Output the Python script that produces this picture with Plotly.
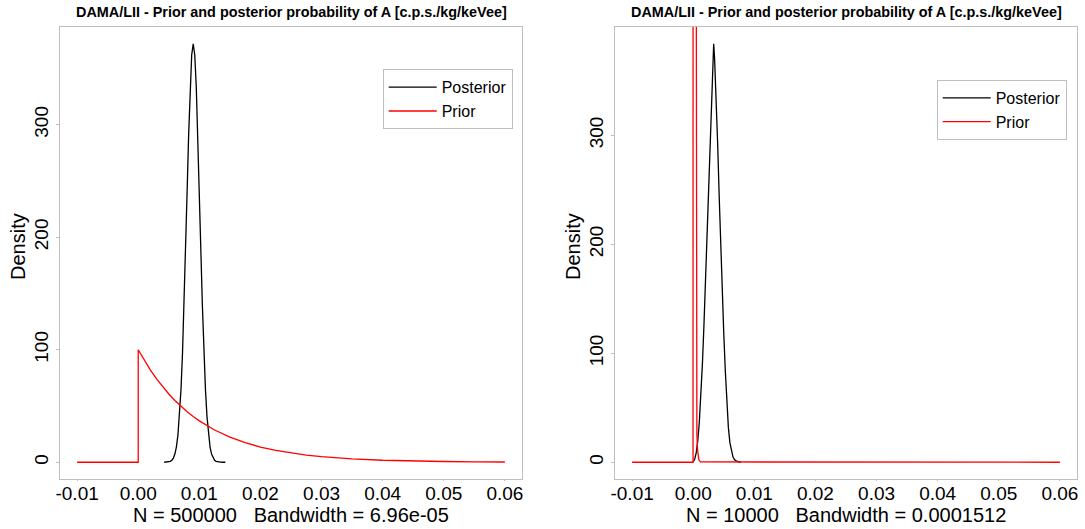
import plotly.graph_objects as go

# ---------------- data ----------------
titles = ["DAMA/LII - Prior and posterior probability of A [c.p.s./kg/keVee]",
          "DAMA/LII - Prior and posterior probability of A [c.p.s./kg/keVee]"]
xlabels = ["N = 500000   Bandwidth = 6.96e-05", "N = 10000   Bandwidth = 0.0001512"]
ylabel = "Density"
series_names = ["Posterior", "Prior"]

x_tickvals = [-0.01, 0.0, 0.01, 0.02, 0.03, 0.04, 0.05, 0.06]
x_ticktext = ["-0.01", "0.00", "0.01", "0.02", "0.03", "0.04", "0.05", "0.06"]
y_tickvals = [0, 100, 200, 300]
y_ticktext = ["0", "100", "200", "300"]

# Left panel: posterior (N = 500000)
post1_x = [0.00425, 0.00450, 0.00475, 0.00500, 0.00525, 0.00550, 0.00575, 0.00600,
           0.00625, 0.00650, 0.00675, 0.00700, 0.00725, 0.00750, 0.00775, 0.00800,
           0.00825, 0.00850, 0.00875, 0.00900, 0.00925, 0.00950, 0.00975, 0.01000,
           0.01025, 0.01050, 0.01075, 0.01100, 0.01125, 0.01150, 0.01175, 0.01200,
           0.01225, 0.01250, 0.01275, 0.01300, 0.01325, 0.01350, 0.01375, 0.01400,
           0.01425]
post1_y = [0.02, 0.05, 0.14, 0.34, 0.8, 1.8, 3.7, 7.3, 13.7, 24.3, 40.8, 64.8,
           97.6, 139.2, 188.0, 240.4, 291.0, 333.5, 362.0, 372.0, 362.0, 333.5, 291.0,
           240.4, 188.0, 139.2, 97.6, 64.8, 40.8, 24.3, 13.7, 7.3, 3.7, 1.8, 0.8,
           0.34, 0.14, 0.05, 0.02, 0.01, 0.0]

# Left panel: prior (exponential-shaped density)
prior1_x = [-0.01, 0.0, 0.0, 0.001, 0.002, 0.003, 0.004, 0.005, 0.006, 0.007, 0.008,
            0.009, 0.010, 0.0125, 0.015, 0.0175, 0.020, 0.0225, 0.025, 0.0275, 0.030,
            0.035, 0.040, 0.045, 0.050, 0.055, 0.060]
prior1_y = [0.0, 0.0, 100.0, 90.5, 81.9, 74.1, 67.0, 60.7, 54.9, 49.7, 44.9, 40.7,
            36.8, 28.7, 22.3, 17.4, 13.5, 10.5, 8.2, 6.4, 5.0, 3.0, 1.8, 1.1, 0.67,
            0.41, 0.25]

# Right panel: posterior (N = 10000)
post2_x = [0.0, 0.00025, 0.0005, 0.00075, 0.0010, 0.00125, 0.0015, 0.00175, 0.0020,
           0.00225, 0.0025, 0.00275, 0.0030, 0.00325, 0.00335, 0.0035, 0.00375,
           0.0040, 0.00425, 0.0045, 0.00475, 0.0050, 0.00525, 0.0055, 0.00575,
           0.0060, 0.00625, 0.0065, 0.00675, 0.0070, 0.0075, 0.0078]
post2_y = [0.5, 3, 9, 20, 37, 60, 90, 125, 165, 208, 253, 300, 345, 378, 384, 370,
           336, 292, 244, 198, 156, 118, 84, 53, 32, 18, 9.5, 5, 2.5, 1.3, 0.4, 0]

# Right panel: prior (narrow spike near zero, exceeds the y range)
prior2_x = [-0.01, -0.00003, 0.0, 0.0002, 0.0004, 0.00045, 0.0005, 0.00055, 0.0006,
            0.0007, 0.0008, 0.0009, 0.0010, 0.0012, 0.06]
prior2_y = [0, 0, 2500, 1500, 600, 180, 80, 45, 26, 12, 6, 3, 1.5, 0.3, 0]

# ---------------- figure ----------------
FONT = "Liberation Sans, Arial, Helvetica, sans-serif"
BOX = "#bebebe"
W, H = 1085, 529
ML, MR, MT, MB = 60, 8, 27, 50
PW = W - ML - MR
PH = H - MT - MB

fig = go.Figure()
fig.add_trace(go.Scatter(x=post1_x, y=post1_y, mode="lines", name=series_names[0],
                         line=dict(color="black", width=1.3), xaxis="x", yaxis="y",
                         legend="legend"))
fig.add_trace(go.Scatter(x=prior1_x, y=prior1_y, mode="lines", name=series_names[1],
                         line=dict(color="#FF0000", width=1.3), xaxis="x", yaxis="y",
                         legend="legend"))
fig.add_trace(go.Scatter(x=post2_x, y=post2_y, mode="lines", name=series_names[0],
                         line=dict(color="black", width=1.3), xaxis="x2", yaxis="y2",
                         legend="legend2"))
fig.add_trace(go.Scatter(x=prior2_x, y=prior2_y, mode="lines", name=series_names[1],
                         line=dict(color="#FF0000", width=1.3), xaxis="x2", yaxis="y2",
                         legend="legend2"))

xr = [-0.0128, 0.0628]
ymax1 = max(post1_y)
ymax2 = max(post2_y)
yr1 = [-0.04 * ymax1, 1.04 * ymax1]
yr2 = [-0.04 * ymax2, 1.04 * ymax2]

d1 = [0, 462 / PW]
d2 = [1 - 462 / PW, 1]

def xaxis(domain, anchor):
    return dict(domain=domain, anchor=anchor, range=xr, tickvals=x_tickvals,
                ticktext=x_ticktext, showgrid=False, zeroline=False, showline=True,
                linecolor=BOX, linewidth=1, mirror=True, ticks="outside", ticklen=1,
                tickcolor=BOX, automargin=False, ticklabelstandoff=-4,
                tickfont=dict(family=FONT, size=19, color="black"))

def yaxis(anchor, rng):
    return dict(domain=[0, 1], anchor=anchor, range=rng, tickvals=y_tickvals,
                ticktext=y_ticktext, showgrid=False, zeroline=False, showline=True,
                linecolor=BOX, linewidth=1, mirror=True, ticks="outside", ticklen=3,
                tickcolor=BOX, tickangle=-90, automargin=False,
                tickfont=dict(family=FONT, size=19, color="black"))

legend_common = dict(bordercolor=BOX, borderwidth=1, bgcolor="white",
                     font=dict(family=FONT, size=16, color="black"),
                     xanchor="left", yanchor="top", itemwidth=48, tracegroupgap=0)

def label(text, x, y, angle=0, size=20, bold=False):
    return dict(text=("<b>%s</b>" % text) if bold else text, x=x, y=y,
                xref="paper", yref="paper", showarrow=False, textangle=angle,
                xanchor="center", yanchor="middle", borderpad=0,
                font=dict(family=FONT, size=size, color="black"))

ann = []
for d, t, xl in zip([d1, d2], titles, xlabels):
    cx = (d[0] + d[1]) / 2
    ann.append(label(t, cx, 1 + (MT - 12) / PH, size=14.4, bold=True))
    ann.append(label(xl, cx, -(514.5 - (H - MB)) / PH))
    ann.append(label(ylabel, d[0] - 42 / PW, 0.5 + 6 / PH, angle=-90))

fig.update_layout(
    width=W, height=H,
    margin=dict(l=ML, r=MR, t=MT, b=MB),
    paper_bgcolor="white", plot_bgcolor="white",
    xaxis=xaxis(d1, "y"),
    yaxis=yaxis("x", yr1),
    xaxis2=xaxis(d2, "y2"),
    yaxis2=yaxis("x2", yr2),
    legend=dict(x=(382.7 - ML) / PW, y=(H - MB - 69.3) / PH, **legend_common),
    legend2=dict(x=(936.7 - ML) / PW, y=(H - MB - 80.0) / PH, **legend_common),
    annotations=ann,
    showlegend=True,
)

fig.write_html("out.html")
